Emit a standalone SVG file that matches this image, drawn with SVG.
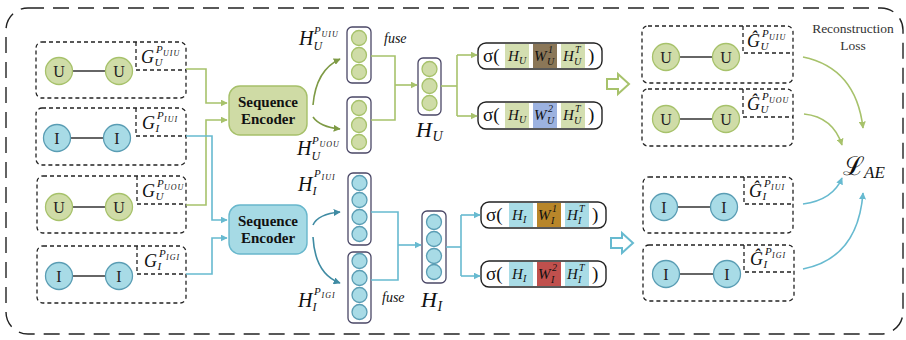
<svg xmlns="http://www.w3.org/2000/svg" width="906" height="340" viewBox="0 0 906 340">
<defs>
<style>
.outer{fill:none;stroke:#222;stroke-width:1.4;stroke-dasharray:16 9}
.panel{fill:none;stroke:#222;stroke-width:1.3;stroke-dasharray:4 3}
.edge{stroke:#333;stroke-width:1.6}
.nG{fill:#cfdca7;stroke:#a7c26b;stroke-width:1.3}
.nB{fill:#a8dbe6;stroke:#5a9db4;stroke-width:1.3}
.nt{font-family:"Liberation Serif",serif;font-size:16px;fill:#222;text-anchor:middle}
.m{font-family:"Liberation Serif","DejaVu Serif",serif;font-style:italic;fill:#111}
.enc{font-family:"Liberation Serif",serif;font-weight:bold;font-size:15px;fill:#111;text-anchor:middle}
.vec{fill:#fff;stroke:#4a4766;stroke-width:1.3}
.cG{fill:none;stroke:#a7c26b;stroke-width:1.6}
.cB{fill:none;stroke:#67bad0;stroke-width:1.6}
.cDG{fill:none;stroke:#7e9a45;stroke-width:1.6}
.cDB{fill:none;stroke:#3f8ba3;stroke-width:1.6}
.sbox{fill:#fff;stroke:#222;stroke-width:1.4}
.sg{font-family:"Liberation Serif","DejaVu Serif",serif;font-size:19px;fill:#111}
.rl{font-family:"Liberation Serif",serif;font-size:13.5px;fill:#333;text-anchor:middle}
.b{font-size:18px}.s{font-size:11px}.t{font-size:8px;letter-spacing:1px}
.hb{font-size:20px}.hs{font-size:12px}
.ib{font-size:15px}.is{font-size:10px}
</style>
<marker id="aG" viewBox="0 0 10 10" refX="9" refY="5" markerWidth="7" markerHeight="7" markerUnits="userSpaceOnUse" orient="auto"><path d="M0 0L10 5L0 10z" fill="#a7c26b"/></marker>
<marker id="aB" viewBox="0 0 10 10" refX="9" refY="5" markerWidth="7" markerHeight="7" markerUnits="userSpaceOnUse" orient="auto"><path d="M0 0L10 5L0 10z" fill="#67bad0"/></marker>
<marker id="aDG" viewBox="0 0 10 10" refX="9" refY="5" markerWidth="7" markerHeight="7" markerUnits="userSpaceOnUse" orient="auto"><path d="M0 0L10 5L0 10z" fill="#7e9a45"/></marker>
<marker id="aDB" viewBox="0 0 10 10" refX="9" refY="5" markerWidth="7" markerHeight="7" markerUnits="userSpaceOnUse" orient="auto"><path d="M0 0L10 5L0 10z" fill="#3f8ba3"/></marker>
</defs>
<rect width="906" height="340" fill="#fff"/>
<rect class="outer" x="6" y="8" width="897" height="326" rx="22"/>

<!-- left input graphs -->
<g id="in-uiu">
<rect class="panel" x="36" y="42" width="150" height="56" rx="6"/>
<path class="panel" d="M136 42V70H186"/>
<line class="edge" x1="72" y1="71" x2="106" y2="71"/>
<circle class="nG" cx="59" cy="71" r="13.5"/><circle class="nG" cx="119" cy="71" r="13.5"/>
<text class="nt" x="59" y="76.5">U</text><text class="nt" x="119" y="76.5">U</text>
<text class="m"><tspan class="b" x="141" y="63">G</tspan><tspan class="s" x="154.5" y="66">U</tspan><tspan class="s" x="156" y="53">P</tspan><tspan class="t" x="163" y="55.5">UIU</tspan></text>
</g>
<g id="in-iui">
<rect class="panel" x="36" y="108" width="150" height="57" rx="6"/>
<path class="panel" d="M136 108V136H186"/>
<line class="edge" x1="70" y1="138" x2="104" y2="138"/>
<circle class="nB" cx="57" cy="138" r="13.5"/><circle class="nB" cx="117" cy="138" r="13.5"/>
<text class="nt" x="57" y="143.5">I</text><text class="nt" x="117" y="143.5">I</text>
<text class="m"><tspan class="b" x="142" y="129">G</tspan><tspan class="s" x="155.5" y="132">I</tspan><tspan class="s" x="157" y="119">P</tspan><tspan class="t" x="164" y="121.5">IUI</tspan></text>
</g>
<g id="in-uou">
<rect class="panel" x="37" y="176" width="149" height="57" rx="6"/>
<path class="panel" d="M137 176V204H186"/>
<line class="edge" x1="72" y1="207" x2="106" y2="207"/>
<circle class="nG" cx="59" cy="207" r="13.5"/><circle class="nG" cx="119" cy="207" r="13.5"/>
<text class="nt" x="59" y="212.5">U</text><text class="nt" x="119" y="212.5">U</text>
<text class="m"><tspan class="b" x="142" y="197">G</tspan><tspan class="s" x="155.5" y="200">U</tspan><tspan class="s" x="157" y="187">P</tspan><tspan class="t" x="164" y="189.5">UOU</tspan></text>
</g>
<g id="in-igi">
<rect class="panel" x="37" y="246" width="149" height="57" rx="6"/>
<path class="panel" d="M137 246V274H186"/>
<line class="edge" x1="72" y1="276" x2="106" y2="276"/>
<circle class="nB" cx="59" cy="276" r="13.5"/><circle class="nB" cx="119" cy="276" r="13.5"/>
<text class="nt" x="59" y="281.5">I</text><text class="nt" x="119" y="281.5">I</text>
<text class="m"><tspan class="b" x="144" y="267">G</tspan><tspan class="s" x="157.5" y="270">I</tspan><tspan class="s" x="159" y="257">P</tspan><tspan class="t" x="166" y="259.5">IGI</tspan></text>
</g>

<!-- encoders -->
<g id="enc-u">
<rect x="229" y="86" width="78" height="49" rx="11" fill="#cfdba5" stroke="#a6c06a" stroke-width="1.4"/>
<text class="enc" x="268" y="107">Sequence</text><text class="enc" x="268" y="124">Encoder</text>
</g>
<g id="enc-i">
<rect x="229" y="205" width="78" height="49" rx="11" fill="#a6dae5" stroke="#68b7cc" stroke-width="1.4"/>
<text class="enc" x="268" y="226">Sequence</text><text class="enc" x="268" y="243">Encoder</text>
</g>

<!-- embedding vectors -->
<g id="h-uiu">
<rect class="vec" x="347" y="27" width="24" height="56" rx="5"/>
<circle class="nG" cx="359" cy="38" r="7.5"/><circle class="nG" cx="359" cy="55" r="7.5"/><circle class="nG" cx="359" cy="72" r="7.5"/>
<text class="m"><tspan class="hb" x="299" y="45">H</tspan><tspan class="hs" x="313.5" y="50">U</tspan><tspan class="s" x="314" y="34">P</tspan><tspan class="t" x="321.5" y="37">UIU</tspan></text>
<text class="m" x="384" y="43" font-size="14">fuse</text>
</g>
<g id="h-uou">
<rect class="vec" x="347" y="97" width="24" height="56" rx="5"/>
<circle class="nG" cx="359" cy="108" r="7.5"/><circle class="nG" cx="359" cy="125" r="7.5"/><circle class="nG" cx="359" cy="142" r="7.5"/>
<text class="m"><tspan class="hb" x="297" y="155">H</tspan><tspan class="hs" x="311.5" y="160">U</tspan><tspan class="s" x="312" y="144">P</tspan><tspan class="t" x="319.5" y="147">UOU</tspan></text>
</g>
<g id="h-u">
<rect class="vec" x="418" y="58" width="23" height="57" rx="5"/>
<circle class="nG" cx="429.5" cy="69" r="7.5"/><circle class="nG" cx="429.5" cy="86" r="7.5"/><circle class="nG" cx="429.5" cy="103" r="7.5"/>
<text class="m"><tspan x="416" y="137" font-size="22">H</tspan><tspan x="432.5" y="141" font-size="14">U</tspan></text>
</g>
<g id="h-iui">
<rect class="vec" x="348" y="173" width="23" height="72" rx="5"/>
<circle class="nB" cx="359.5" cy="183" r="7.5"/><circle class="nB" cx="359.5" cy="200" r="7.5"/><circle class="nB" cx="359.5" cy="217" r="7.5"/><circle class="nB" cx="359.5" cy="234" r="7.5"/>
<text class="m"><tspan class="hb" x="298" y="191">H</tspan><tspan class="hs" x="312.5" y="195">I</tspan><tspan class="s" x="314" y="177">P</tspan><tspan class="t" x="321.5" y="180">IUI</tspan></text>
</g>
<g id="h-igi">
<rect class="vec" x="348" y="252" width="23" height="71" rx="5"/>
<circle class="nB" cx="359.5" cy="261" r="7.5"/><circle class="nB" cx="359.5" cy="278" r="7.5"/><circle class="nB" cx="359.5" cy="295" r="7.5"/><circle class="nB" cx="359.5" cy="312" r="7.5"/>
<text class="m"><tspan class="hb" x="298" y="307">H</tspan><tspan class="hs" x="312.5" y="311">I</tspan><tspan class="s" x="314" y="295">P</tspan><tspan class="t" x="321.5" y="298">IGI</tspan></text>
<text class="m" x="382" y="302" font-size="14">fuse</text>
</g>
<g id="h-i">
<rect class="vec" x="422" y="211" width="24" height="72" rx="5"/>
<circle class="nB" cx="434" cy="222" r="7.5"/><circle class="nB" cx="434" cy="239" r="7.5"/><circle class="nB" cx="434" cy="256" r="7.5"/><circle class="nB" cx="434" cy="272" r="7.5"/>
<text class="m"><tspan x="421" y="307" font-size="22">H</tspan><tspan x="437.5" y="311" font-size="14">I</tspan></text>
</g>

<!-- decoders -->
<g id="dec-u1">
<rect class="sbox" x="478" y="43" width="124" height="26" rx="8"/>
<rect x="505" y="44" width="24" height="24" fill="#d3deb0"/><rect x="533" y="44" width="24" height="24" fill="#8b7758"/><rect x="561" y="44" width="24" height="24" fill="#d3deb0"/>
<text class="sg" x="483" y="62">σ(</text><text class="sg" x="588" y="62">)</text>
<text class="m"><tspan class="ib" x="508" y="61">H</tspan><tspan class="is" x="519" y="64">U</tspan></text>
<text class="m"><tspan class="ib" x="534" y="61">W</tspan><tspan class="is" x="547" y="65">U</tspan><tspan class="is" x="548" y="53">1</tspan></text>
<text class="m"><tspan class="ib" x="563" y="61">H</tspan><tspan class="is" x="574" y="65">U</tspan><tspan class="is" x="575" y="53">T</tspan></text>
</g>
<g id="dec-u2">
<rect class="sbox" x="478" y="102" width="124" height="27" rx="8"/>
<rect x="505" y="103" width="24" height="25" fill="#d3deb0"/><rect x="533" y="103" width="24" height="25" fill="#9cb2e0"/><rect x="561" y="103" width="24" height="25" fill="#d3deb0"/>
<text class="sg" x="483" y="121">σ(</text><text class="sg" x="588" y="121">)</text>
<text class="m"><tspan class="ib" x="508" y="120">H</tspan><tspan class="is" x="519" y="123">U</tspan></text>
<text class="m"><tspan class="ib" x="534" y="120">W</tspan><tspan class="is" x="547" y="124">U</tspan><tspan class="is" x="548" y="112">2</tspan></text>
<text class="m"><tspan class="ib" x="563" y="120">H</tspan><tspan class="is" x="574" y="124">U</tspan><tspan class="is" x="575" y="112">T</tspan></text>
</g>
<g id="dec-i1">
<rect class="sbox" x="481" y="202" width="125" height="26" rx="8"/>
<rect x="509" y="203" width="24" height="24" fill="#a9dce6"/><rect x="537" y="203" width="24" height="24" fill="#b8862a"/><rect x="565" y="203" width="24" height="24" fill="#a9dce6"/>
<text class="sg" x="486" y="221">σ(</text><text class="sg" x="592" y="221">)</text>
<text class="m"><tspan class="ib" x="512" y="220">H</tspan><tspan class="is" x="523" y="223">I</tspan></text>
<text class="m"><tspan class="ib" x="538" y="220">W</tspan><tspan class="is" x="551" y="224">I</tspan><tspan class="is" x="552" y="212">1</tspan></text>
<text class="m"><tspan class="ib" x="567" y="220">H</tspan><tspan class="is" x="578" y="224">I</tspan><tspan class="is" x="579" y="212">T</tspan></text>
</g>
<g id="dec-i2">
<rect class="sbox" x="481" y="261" width="125" height="26" rx="8"/>
<rect x="509" y="262" width="24" height="24" fill="#a9dce6"/><rect x="537" y="262" width="24" height="24" fill="#c0504d"/><rect x="565" y="262" width="24" height="24" fill="#a9dce6"/>
<text class="sg" x="486" y="280">σ(</text><text class="sg" x="592" y="280">)</text>
<text class="m"><tspan class="ib" x="512" y="279">H</tspan><tspan class="is" x="523" y="282">I</tspan></text>
<text class="m"><tspan class="ib" x="538" y="279">W</tspan><tspan class="is" x="551" y="283">I</tspan><tspan class="is" x="552" y="271">2</tspan></text>
<text class="m"><tspan class="ib" x="567" y="279">H</tspan><tspan class="is" x="578" y="283">I</tspan><tspan class="is" x="579" y="271">T</tspan></text>
</g>

<!-- reconstructed graphs -->
<g id="out-uiu">
<rect class="panel" x="642" y="26" width="151" height="57" rx="6"/>
<path class="panel" d="M743 26V53H793"/>
<line class="edge" x1="679" y1="57" x2="713" y2="57"/>
<circle class="nG" cx="666" cy="57" r="13.5"/><circle class="nG" cx="726" cy="57" r="13.5"/>
<text class="nt" x="666" y="62.5">U</text><text class="nt" x="726" y="62.5">U</text>
<text class="m"><tspan class="b" x="747" y="47">Ĝ</tspan><tspan class="s" x="760.5" y="50">U</tspan><tspan class="s" x="762" y="37">P</tspan><tspan class="t" x="769" y="39.5">UIU</tspan></text>
</g>
<g id="out-uou">
<rect class="panel" x="642" y="89" width="151" height="57" rx="6"/>
<path class="panel" d="M743 89V117H793"/>
<line class="edge" x1="679" y1="119" x2="713" y2="119"/>
<circle class="nG" cx="666" cy="119" r="13.5"/><circle class="nG" cx="726" cy="119" r="13.5"/>
<text class="nt" x="666" y="124.5">U</text><text class="nt" x="726" y="124.5">U</text>
<text class="m"><tspan class="b" x="747" y="110">Ĝ</tspan><tspan class="s" x="760.5" y="113">U</tspan><tspan class="s" x="762" y="100">P</tspan><tspan class="t" x="769" y="102.5">UOU</tspan></text>
</g>
<g id="out-iui">
<rect class="panel" x="643" y="177" width="150" height="56" rx="6"/>
<path class="panel" d="M744 177V204H793"/>
<line class="edge" x1="677" y1="207" x2="711" y2="207"/>
<circle class="nB" cx="664" cy="207" r="13.5"/><circle class="nB" cx="724" cy="207" r="13.5"/>
<text class="nt" x="664" y="212.5">I</text><text class="nt" x="724" y="212.5">I</text>
<text class="m"><tspan class="b" x="749" y="197">Ĝ</tspan><tspan class="s" x="762.5" y="200">I</tspan><tspan class="s" x="764" y="187">P</tspan><tspan class="t" x="771" y="189.5">IUI</tspan></text>
</g>
<g id="out-igi">
<rect class="panel" x="643" y="245" width="151" height="56" rx="6"/>
<path class="panel" d="M744 245V272H794"/>
<line class="edge" x1="679" y1="274" x2="713" y2="274"/>
<circle class="nB" cx="666" cy="274" r="13.5"/><circle class="nB" cx="727" cy="274" r="13.5"/>
<text class="nt" x="666" y="279.5">I</text><text class="nt" x="727" y="279.5">I</text>
<text class="m"><tspan class="b" x="750" y="265">Ĝ</tspan><tspan class="s" x="763.5" y="268">I</tspan><tspan class="s" x="765" y="255">P</tspan><tspan class="t" x="772" y="257.5">IGI</tspan></text>
</g>

<g id="loss">
<text class="rl" x="853" y="33">Reconstruction</text>
<text class="rl" x="853" y="50">Loss</text>
<text class="m"><tspan x="843" y="175" font-size="26" font-style="normal">ℒ</tspan><tspan x="864" y="178" font-size="17">AE</tspan></text>
</g>

<!-- connectors -->
<g id="connectors">
<path class="cG" d="M186 69H206V103H227" marker-end="url(#aG)"/>
<path class="cG" d="M186 205H206V120H227" marker-end="url(#aG)"/>
<path class="cB" d="M186 136H212V220H227" marker-end="url(#aB)"/>
<path class="cB" d="M186 274H212V238H227" marker-end="url(#aB)"/>
<path class="cDG" d="M313 105Q316 70 340 59" marker-end="url(#aDG)"/>
<path class="cDG" d="M313 117Q320 127 340 129" marker-end="url(#aDG)"/>
<path class="cDB" d="M313 225Q318 214 340 212" marker-end="url(#aDB)"/>
<path class="cDB" d="M313 237Q315 274 340 283" marker-end="url(#aDB)"/>
<path class="cG" d="M371 56H395V120H371"/>
<path class="cG" d="M395 85H417" marker-end="url(#aG)"/>
<path class="cB" d="M371 212H398V280H371"/>
<path class="cB" d="M398 245H421" marker-end="url(#aB)"/>
<path class="cG" d="M441 86H457"/>
<path class="cG" d="M457 55V116"/>
<path class="cG" d="M457 55H477" marker-end="url(#aG)"/>
<path class="cG" d="M457 116H477" marker-end="url(#aG)"/>
<path class="cB" d="M446 247H461"/>
<path class="cB" d="M461 215V276"/>
<path class="cB" d="M461 215H480" marker-end="url(#aB)"/>
<path class="cB" d="M461 276H480" marker-end="url(#aB)"/>
<polygon points="607,79 618,79 618,74 629,84 618,94 618,89 607,89" fill="#fff" stroke="#a7c26b" stroke-width="2"/>
<polygon points="611,238 622,238 622,233 633,243 622,253 622,248 611,248" fill="#fff" stroke="#67bad0" stroke-width="2"/>
<path class="cG" d="M803 57Q856 68 863 128" marker-end="url(#aG)"/>
<path class="cG" d="M804 114Q833 117 842 145" marker-end="url(#aG)"/>
<path class="cB" d="M803 204Q833 200 842 178" marker-end="url(#aB)"/>
<path class="cB" d="M803 269Q858 258 863 193" marker-end="url(#aB)"/>
</g>
</svg>
